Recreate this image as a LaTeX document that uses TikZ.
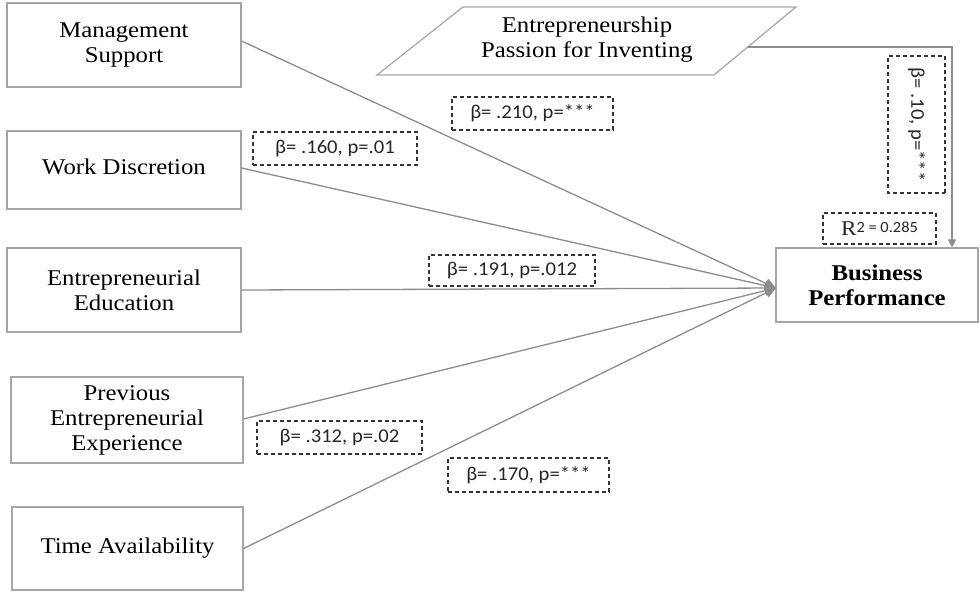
\documentclass[tikz,border=0pt]{standalone}
\usepackage{fontspec}
\setmainfont{Liberation Serif}[FakeStretch=1.1]
\newfontfamily\lblfont{Carlito}[FakeStretch=1.06]
\usetikzlibrary{arrows.meta}
\definecolor{linegray}{HTML}{8C8C8C}
\definecolor{boxgray}{HTML}{A6A6A6}
\definecolor{dashgray}{HTML}{333333}
\begin{document}
\begin{tikzpicture}[x=1pt,y=-1pt,
  varbox/.style={draw=boxgray,line width=1.2pt,align=center,inner sep=0pt,
    font=\fontsize{22.5}{25}\selectfont},
  coefbox/.style={draw=dashgray,dashed,dash pattern=on 4pt off 3pt,line width=1.1pt,
    inner sep=0pt,font=\lblfont\fontsize{19.5}{20}\selectfont,text=black!85},
  path/.style={draw=linegray,line width=1.3pt,-{Triangle[length=11pt,width=10pt]}}
]
\useasboundingbox (0,0) rectangle (980,592);

% predictor boxes
\node[varbox,minimum width=234pt,minimum height=84pt] (ms) at (124,45) {Management\\Support};
\node[varbox,minimum width=234pt,minimum height=78pt] (wd) at (124,170) {\raisebox{7pt}{Work Discretion}};
\node[varbox,minimum width=234pt,minimum height=84pt] (ee) at (124,290) {Entrepreneurial\\Education};
\node[varbox,minimum width=232pt,minimum height=86pt] (pe) at (127,420) {Previous\\Entrepreneurial\\Experience};
\node[varbox,minimum width=231pt,minimum height=83pt] (ta) at (127.5,548.5) {\raisebox{5pt}{Time Availability}};

% outcome
\node[varbox,minimum width=202pt,minimum height=74pt,font=\bfseries\fontsize{22.5}{25}\selectfont] (bp) at (877,285) {Business\\Performance};

% moderator parallelogram
\draw[draw=boxgray,line width=1.2pt] (463,7) -- (796,7) -- (714,75) -- (377,75) -- cycle;
\node[align=center,inner sep=0pt,font=\fontsize{22.5}{25}\selectfont] (epi) at (587,40) {Entrepreneurship\\Passion for Inventing};
\coordinate (epiout) at (748,47);
\coordinate (corner) at (952,47);
\coordinate (conv) at (776,288);

% connectors
\draw[path] (ms.east |- 0,41) -- (conv);
\draw[path] (wd.east |- 0,168) -- (conv);
\draw[path] (ee.east) -- (conv);
\draw[path] (pe.east |- 0,419) -- (conv);
\draw[path] (ta.east) -- (conv);
\draw[draw=linegray,line width=1.3pt,-{Triangle[length=8pt,width=8pt]}] (epiout) -- (corner) -- (corner |- bp.north);

% coefficient labels
\node[coefbox,minimum width=161pt,minimum height=33pt] (l210) at (532.5,113.5) {β= .210, p=***};
\node[coefbox,minimum width=164pt,minimum height=33pt] (l160) at (335,148.5) {β= .160, p=.01};
\node[coefbox,minimum width=166pt,minimum height=31pt] (l191) at (512,270.5) {β= .191, p=.012};
\node[coefbox,minimum width=165pt,minimum height=33pt] (l312) at (339.5,437.5) {β= .312, p=.02};
\node[coefbox,minimum width=161pt,minimum height=34pt] (l170) at (528.5,475) {β= .170, p=***};
\node[coefbox,minimum width=137pt,minimum height=57pt,rotate=-90] (l10) at (916.5,124.5) {β= .10, p=***};
\node[coefbox,minimum width=113pt,minimum height=31pt] (r2) at (879.5,228.5)
  {{\rmfamily\fontsize{21}{21}\selectfont R}\raisebox{3pt}{\fontsize{15.5}{15.5}\selectfont 2 = 0.285}};
\end{tikzpicture}
\end{document}
